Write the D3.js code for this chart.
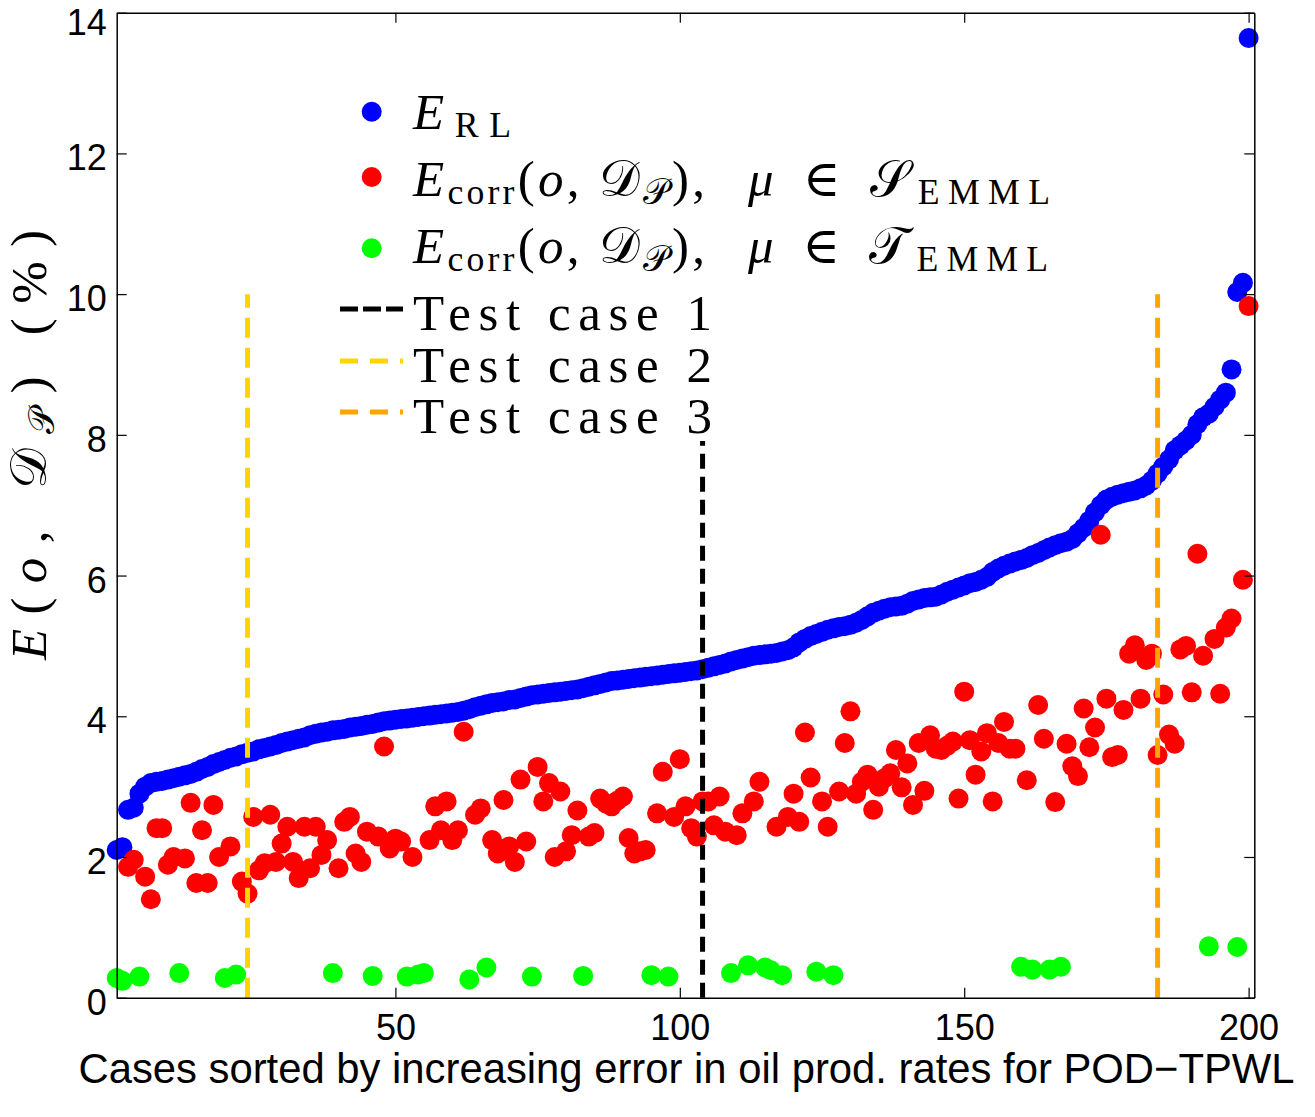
<!DOCTYPE html>
<html><head><meta charset="utf-8">
<script src="https://cdn.jsdelivr.net/npm/d3@7"></script>
<style>body{margin:0;background:#fff} svg{display:block}</style>
</head><body>
<svg id="c" width="1315" height="1117"></svg>
<script>
// ---------- data ----------
const blueValues = [
 2.10,2.14,2.67,2.70,2.90,3.00,3.05,3.07,3.08,3.10,
 3.12,3.14,3.16,3.18,3.21,3.25,3.28,3.32,3.35,3.38,
 3.41,3.43,3.46,3.48,3.50,3.53,3.55,3.57,3.59,3.62,
 3.64,3.66,3.68,3.70,3.73,3.75,3.77,3.78,3.80,3.81,
 3.82,3.84,3.85,3.86,3.88,3.89,3.91,3.93,3.94,3.95,
 3.96,3.97,3.98,3.99,4.00,4.01,4.02,4.03,4.04,4.05,
 4.06,4.08,4.10,4.13,4.15,4.17,4.19,4.20,4.21,4.23,
 4.24,4.26,4.28,4.30,4.31,4.32,4.33,4.34,4.35,4.36,
 4.37,4.38,4.40,4.42,4.44,4.46,4.48,4.50,4.51,4.52,
 4.53,4.54,4.55,4.56,4.57,4.58,4.59,4.60,4.61,4.62,
 4.63,4.64,4.65,4.67,4.69,4.71,4.73,4.75,4.78,4.80,
 4.82,4.84,4.86,4.87,4.88,4.89,4.90,4.92,4.94,4.98,
 5.05,5.10,5.14,5.17,5.20,5.23,5.25,5.27,5.28,5.30,
 5.33,5.37,5.42,5.47,5.50,5.53,5.55,5.56,5.57,5.60,
 5.64,5.66,5.68,5.69,5.70,5.73,5.77,5.80,5.83,5.86,
 5.89,5.91,5.94,5.98,6.05,6.10,6.14,6.17,6.20,6.22,
 6.25,6.29,6.32,6.36,6.40,6.43,6.46,6.48,6.52,6.60,
 6.68,6.78,6.90,7.00,7.08,7.12,7.15,7.17,7.19,7.21,
 7.24,7.28,7.35,7.45,7.55,7.65,7.78,7.85,7.92,8.00,
 8.15,8.25,8.30,8.40,8.50,8.60,8.93,10.03,10.16,13.64
];

const redCases = [
 3,4,6,7,8,9,10,11,13,14,15,16,17,18,19,21,23,24,25,26,
 27,28,29,30,31,32,33,34,35,36,37,38,40,41,42,43,44,45,47,48,
 49,50,51,53,56,57,58,59,60,61,62,64,65,67,68,69,70,71,72,73,
 75,76,77,78,79,80,81,82,84,85,86,87,88,89,90,91,92,93,94,96,
 97,99,100,101,102,103,104,105,106,107,108,110,111,113,114,117,119,120,121,122,
 123,125,126,128,129,130,131,132,133,134,135,136,137,138,139,140,141,142,143,144,
 145,146,147,148,149,150,151,152,153,154,155,156,157,158,159,161,163,164,166,168,
 169,170,171,172,173,174,175,176,177,178,179,180,181,182,183,184,185,186,187,188,
 189,190,191,192,194,195,196,197,199,200
];
const redValues = [
 1.86,1.96,1.72,1.40,2.41,2.41,1.89,2.00,1.98,2.77,1.63,2.38,1.63,2.74,2.00,2.15,1.65,1.48,2.57,1.81,
 1.91,2.60,1.93,2.19,2.43,1.93,1.70,2.43,1.84,2.43,2.03,2.24,1.84,2.50,2.57,2.05,1.93,2.36,2.29,3.57,
 2.12,2.26,2.22,2.00,2.24,2.72,2.38,2.79,2.24,2.38,3.78,2.60,2.69,2.24,2.05,2.81,2.15,1.93,3.10,2.22,
 3.28,2.79,3.05,2.00,2.93,2.08,2.31,2.66,2.29,2.34,2.83,2.76,2.72,2.80,2.86,2.27,2.05,2.08,2.10,2.62,
 3.21,2.57,3.39,2.72,2.41,2.29,2.79,2.79,2.45,2.86,2.36,2.31,2.62,2.79,3.07,2.43,2.57,2.90,2.50,3.77,
 3.13,2.79,2.43,2.93,3.62,4.07,2.90,3.07,3.17,2.67,3.00,3.12,3.19,3.52,2.99,3.33,2.74,3.62,2.94,3.73,
 3.54,3.52,3.58,3.64,2.83,4.35,3.66,3.17,3.50,3.76,2.79,3.62,3.92,3.54,3.54,3.09,4.16,3.68,2.78,3.61,
 3.29,3.15,4.11,3.56,3.84,6.58,4.25,3.42,3.45,4.09,4.89,5.01,4.25,4.80,4.89,3.45,4.31,3.74,3.61,4.95,
 5.00,4.34,6.31,4.86,5.10,4.32,5.26,5.39,5.94,9.83
];
const greenCases  = [1,2,5,12,20,22,39,46,52,54,55,63,66,74,83,95,98,109,112,115,116,118,124,127,160,162,165,167,193,198];
const greenValues = [0.28,0.24,0.30,0.35,0.28,0.33,0.35,0.31,0.30,0.33,0.35,0.26,0.43,0.30,0.31,0.32,0.30,0.35,0.46,0.43,0.39,0.32,0.37,0.32,0.44,0.40,0.40,0.44,0.73,0.72];

const testCases  = [104, 24, 184];
const testTop    = 10;
const testLabels = ["Test case 1", "Test case 2", "Test case 3"];
const xTicks = [50, 100, 150, 200];
const yTicks = [0, 2, 4, 6, 8, 10, 12, 14];
const xDomain = [1, 201];
const yDomain = [0, 14];
const xLabel = "Cases sorted by increasing error in oil prod. rates for POD\u2212TPWL";

// ---------- layout ----------
const M = {left: 116.7, top: 12.7};
const W = 1137.6, H = 985;
const colors = {blue: "#0000FF", red: "#FF0000", green: "#00FF00",
  tests: ["#000000", "#FFD400", "#FFA500"]};
const plotDash = ["15,8", "20,10", "20,10"];
const legDash = ["18,5", "18,12", "18,12"];
const R = 10;

const svg = d3.select("#c");
const g = svg.append("g").attr("transform", `translate(${M.left},${M.top})`);
const x = d3.scaleLinear().domain(xDomain).range([0, W]);
const y = d3.scaleLinear().domain(yDomain).range([H, 0]);

const blue = blueValues.map((v, i) => ({c: i + 1, v}));
const red = redCases.map((c, i) => ({c, v: redValues[i]}));
const green = greenCases.map((c, i) => ({c, v: greenValues[i]}));

g.append("g").selectAll("circle").data(blue).join("circle")
  .attr("cx", d => x(d.c)).attr("cy", d => y(d.v)).attr("r", R).attr("fill", colors.blue);
g.append("g").selectAll("circle").data(red).join("circle")
  .attr("cx", d => x(d.c)).attr("cy", d => y(d.v)).attr("r", R).attr("fill", colors.red);
g.append("g").selectAll("circle").data(green).join("circle")
  .attr("cx", d => x(d.c)).attr("cy", d => y(d.v)).attr("r", R).attr("fill", colors.green);

g.append("g").selectAll("line").data(testCases).join("line")
  .attr("x1", d => x(d)).attr("x2", d => x(d))
  .attr("y1", y(0)).attr("y2", y(testTop))
  .attr("stroke", (d, i) => colors.tests[i]).attr("stroke-width", 5)
  .attr("stroke-dasharray", (d, i) => plotDash[i]);

// axes
const tickFont = "'Liberation Sans', Arial, Helvetica, sans-serif";
function styleAxis(sel) {
  sel.select(".domain").attr("stroke", "#000").attr("stroke-width", 1.5);
  sel.selectAll(".tick line").attr("stroke", "#000").attr("stroke-width", 1.2);
  sel.selectAll("text").attr("font-family", tickFont).attr("font-size", 36).attr("fill", "#000");
}
g.append("g").attr("transform", `translate(0,${H})`)
  .call(d3.axisBottom(x).tickValues(xTicks).tickSizeInner(-10).tickSizeOuter(0).tickPadding(17).tickFormat(d3.format("d")))
  .call(styleAxis);
g.append("g")
  .call(d3.axisTop(x).tickValues(xTicks).tickSizeInner(-10).tickSizeOuter(0).tickFormat(""))
  .call(styleAxis);
g.append("g")
  .call(d3.axisLeft(y).tickValues(yTicks).tickSizeInner(-10).tickSizeOuter(0).tickPadding(10).tickFormat(d3.format("d")))
  .call(styleAxis)
  .call(s => s.selectAll(".tick text").attr("dy", d => d === yDomain[1] ? "0.6em" : "0.46em"));
g.append("g").attr("transform", `translate(${W},0)`)
  .call(d3.axisRight(y).tickValues(yTicks).tickSizeInner(-10).tickSizeOuter(0).tickFormat(""))
  .call(styleAxis);

// x label
svg.append("text").attr("x", 686.5).attr("y", 1083).attr("text-anchor", "middle")
  .attr("font-family", tickFont).attr("font-size", 41.8).text(xLabel);

// math text helper
const serif = "'Liberation Serif', 'DejaVu Serif', 'Times New Roman', serif";
const mathFam = "'DejaVu Serif', 'DejaVu Sans', 'Noto Sans', serif";
function mathText(parent, xx, yy, parts, size, len) {
  const t = parent.append("text").attr("x", xx).attr("y", yy)
    .attr("font-family", serif).attr("font-size", size).attr("fill", "#000");
  if (len) t.attr("textLength", len).attr("lengthAdjust", "spacing");
  let shift = 0;
  parts.forEach(p => {
    const s = t.append("tspan").text(p.t);
    const target = p.sub ? size * 0.16 : 0;
    if (target !== shift) { s.attr("dy", target - shift); shift = target; }
    s.attr("font-size", p.sub ? size * 0.7 : size);
    if (p.i) s.attr("font-style", "italic");
    if (p.m) s.attr("font-family", mathFam);
  });
  return t;
}

// y label
const yl = svg.append("g").attr("transform", "translate(46,445) rotate(-90)");
mathText(yl, 0, 0, [
  {t: "E", i: 1}, {t: "("}, {t: "o", i: 1}, {t: ", "}, {t: "\u{1D49F}", m: 1}, {t: "\u{1D4AB}", sub: 1, m: 1},
  {t: ")"}, {t: " (%)"}
], 51, 430).attr("text-anchor", "middle");

// legend
const leg = svg.append("g");
leg.append("rect").attr("x", 330).attr("y", 70).attr("width", 730).attr("height", 371).attr("fill", "#fff");
const legDots = [{c: colors.blue, y: 111.7}, {c: colors.red, y: 177}, {c: colors.green, y: 248.3}];
leg.selectAll("circle").data(legDots).join("circle")
  .attr("cx", 371.7).attr("cy", d => d.y).attr("r", R).attr("fill", d => d.c);
mathText(leg, 413, 129, [{t: "E", i: 1}, {t: "RL", sub: 1}], 51, 98);
const corrA = [
  {t: "E", i: 1}, {t: "corr", sub: 1}, {t: "("}, {t: "o", i: 1}, {t: ", "},
  {t: "\u{1D49F}", m: 1}, {t: "\u{1D4AB}", sub: 1, m: 1}, {t: "),"}
];
const corrB = (setChar) => [{t: "\u03BC", i: 1}, {t: " \u2208 "}, {t: setChar, m: 1}, {t: "EMML", sub: 1}];
mathText(leg, 413, 196, corrA, 51, 292);
mathText(leg, 748, 196, corrB("\u{1D4AE}"), 51, 302);
mathText(leg, 413, 263, corrA, 51, 292);
mathText(leg, 748, 263, corrB("\u{1D4AF}"), 51, 300);
const legLineY = [309, 361, 412];
const legTextY = [330, 381.7, 432.7];
testLabels.forEach((lab, i) => {
  leg.append("line").attr("x1", 340).attr("x2", 403).attr("y1", legLineY[i]).attr("y2", legLineY[i])
    .attr("stroke", colors.tests[i]).attr("stroke-width", 5).attr("stroke-dasharray", legDash[i]);
  leg.append("text").attr("x", 413).attr("y", legTextY[i]).attr("font-family", serif)
    .attr("font-size", 51).attr("textLength", 299).attr("lengthAdjust", "spacing").text(lab);
});
</script>
</body></html>
